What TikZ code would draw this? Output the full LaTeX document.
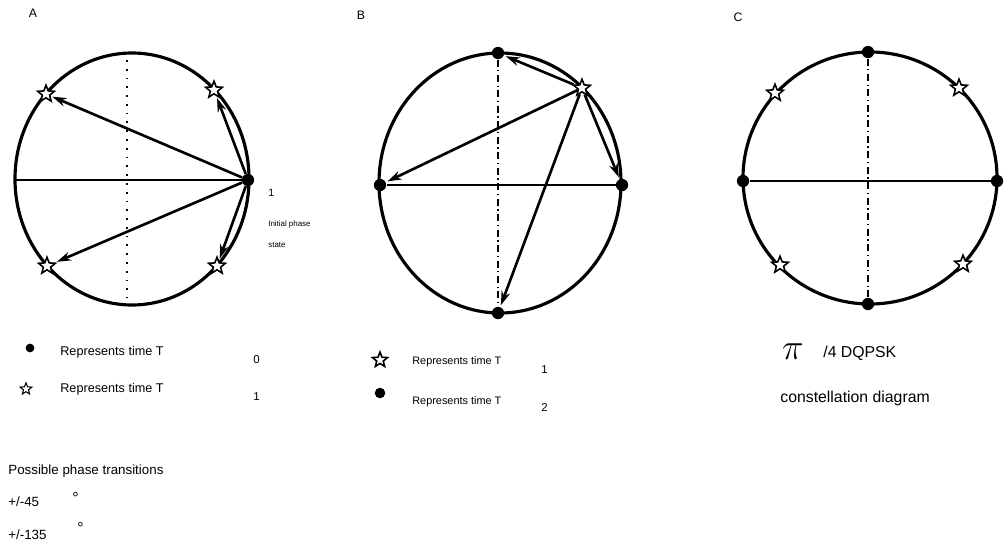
\documentclass[tikz,border=0pt]{standalone}
\usepackage{fontspec}
\setmainfont{Liberation Sans}
\usetikzlibrary{shapes.geometric,arrows.meta,positioning}

\begin{document}
\begin{tikzpicture}[x=0.02cm,y=-0.02cm,
  dot/.style={circle,fill=black,inner sep=0pt,minimum size=7pt},
  starmark/.style={star,star points=5,star point ratio=2.3,draw,fill=white,line width=0.9pt,inner sep=0pt,minimum size=10pt},
  rim/.style={line width=1.8pt},
  axis/.style={line width=1.2pt},
  vaxis/.style={line width=0.8pt,dash pattern=on 4pt off 2pt on 0.8pt off 2pt},
  trans/.style={-{Stealth[length=8pt,width=5pt]},line width=1.5pt,shorten >=1pt},
  lbl/.style={inner sep=0pt,anchor=west,font=\fontsize{6.5}{7}\selectfont}]
  \useasboundingbox (0,0) rectangle (1004,545);

  % A: transitions from the initial state
  \node[inner sep=0pt,font=\fontsize{7}{8}\selectfont] (labA) at (33,13) {A};
  \draw[rim] (132,179) ellipse [x radius=117, y radius=126];
  \coordinate (aw) at (15,180);
  \coordinate (an) at (127,60);
  \coordinate (as) at (127,298);
  \draw[axis] (aw) -- (248,180);
  \draw[line width=0.8pt,dash pattern=on 1pt off 4pt] (an) -- (as);
  \node[dot] (a0) at (248,180) {};
  \node[starmark] (a1) at (214,90) {};
  \node[starmark] (a2) at (46,94) {};
  \node[starmark] (a3) at (47,266) {};
  \node[starmark] (a4) at (217,266) {};
  \foreach \s in {a1,a2,a3,a4}
    \draw[trans] (a0) -- (\s);
  \node[lbl,font=\fontsize{6}{7}\selectfont] (one) at (268,193) {1};
  \node[lbl,font=\fontsize{4.5}{5}\selectfont] (initA) at (268,224) {Initial phase};
  \node[lbl,font=\fontsize{4.5}{5}\selectfont] (stateA) at (268,245) {state};

  % B: transitions from a star state
  \node[inner sep=0pt,font=\fontsize{7}{8}\selectfont] (labB) at (361,15) {B};
  \draw[rim] (500,183) ellipse [x radius=121, y radius=130];
  \node[dot] (b1) at (498,53) {};
  \node[dot] (b2) at (380,185) {};
  \node[dot] (b3) at (622,185) {};
  \node[dot] (b4) at (498,313) {};
  \node[starmark] (bs) at (582,88) {};
  \draw[axis] (b2) -- (b3);
  \draw[vaxis] (b1) -- (b4);
  \foreach \d in {b1,b2,b3,b4}
    \draw[trans] (bs) -- (\d);

  % C: full constellation
  \node[inner sep=0pt,font=\fontsize{7}{8}\selectfont] (labC) at (738,17) {C};
  \draw[rim] (870,178) ellipse [x radius=127, y radius=126];
  \node[dot] (c1) at (868,52) {};
  \node[dot] (c2) at (743,181) {};
  \node[dot] (c3) at (997,181) {};
  \node[dot] (c4) at (868,304) {};
  \draw[axis] (c2) -- (c3);
  \draw[vaxis] (c1) -- (c4);
  \node[starmark] (c5) at (959,88) {};
  \node[starmark] (c6) at (775,93) {};
  \node[starmark] (c7) at (780,265) {};
  \node[starmark] (c8) at (963,264) {};

  % legends
  \node[dot,minimum size=5pt] (kA1) at (30,348) {};
  \node[lbl,font=\fontsize{7.2}{8}\selectfont] (tA1) at (60,352) {Represents time T};
  \node[lbl] (sA1) at (253,360) {0};
  \node[starmark,minimum size=7pt,line width=0.6pt] (kA2) at (26,389) {};
  \node[lbl,font=\fontsize{7.2}{8}\selectfont] (tA2) at (60,389) {Represents time T};
  \node[lbl] (sA2) at (253,397) {1};

  \node[starmark,minimum size=9pt] (kB1) at (380,360) {};
  \node[lbl,font=\fontsize{6.2}{7}\selectfont] (tB1) at (412,362) {Represents time T};
  \node[lbl] (sB1) at (541,370) {1};
  \node[dot,minimum size=6pt] (kB2) at (380,393) {};
  \node[lbl,font=\fontsize{6.2}{7}\selectfont] (tB2) at (412,402) {Represents time T};
  \node[lbl] (sB2) at (541,408) {2};

  \node[inner sep=0pt,font=\huge] (piC) at (793,352) {$\pi$};
  \node[lbl,font=\fontsize{9}{10}\selectfont] (tC1) at (823,353) {/4 DQPSK};
  \node[lbl,font=\fontsize{9}{10}\selectfont] (tC2) at (780,398) {constellation diagram};

  \node[lbl,font=\fontsize{7.6}{8}\selectfont] (ph) at (8,471) {Possible phase transitions};
  \node[lbl,font=\fontsize{7.6}{8}\selectfont] (p45) at (8,502) {+/-45};
  \node[lbl,font=\fontsize{9}{10}\selectfont] (d45) at (72,498) {\textdegree};
  \node[lbl,font=\fontsize{7.6}{8}\selectfont] (p135) at (8,535) {+/-135};
  \node[lbl,font=\fontsize{9}{10}\selectfont] (d135) at (77,528) {\textdegree};
\end{tikzpicture}
\end{document}
